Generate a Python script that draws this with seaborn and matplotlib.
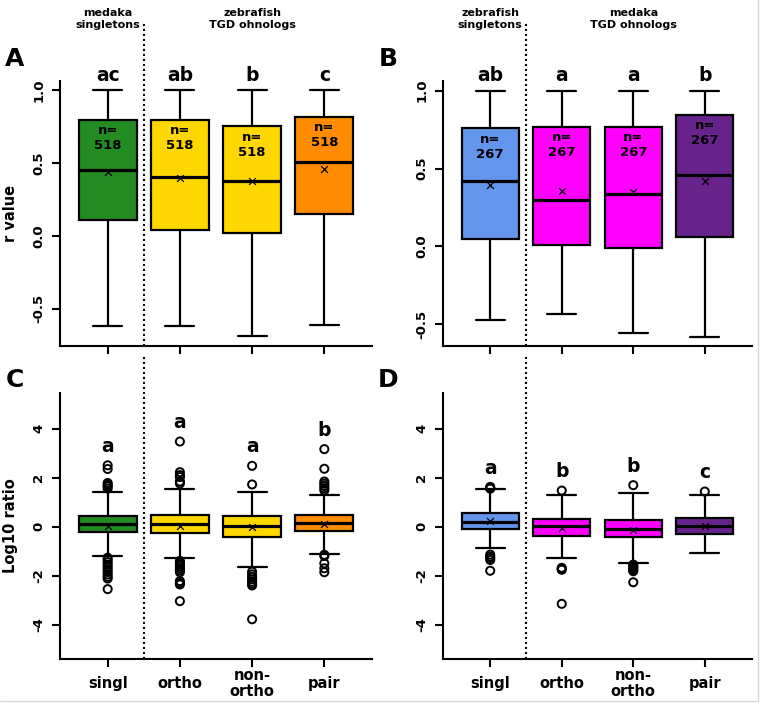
"""Box plots of r values (A, B) and log10 ratios (C, D) for singletons and TGD ohnologs."""

import numpy as np
import pandas as pd
import matplotlib
matplotlib.use("Agg")
import matplotlib.pyplot as plt
import seaborn as sns
from matplotlib.lines import Line2D

# categories
groups = ["singl", "ortho", "non-ortho", "pair"]
tick_labels = ["singl", "ortho", "non-\northo", "pair"]

# panel A: medaka singletons vs zebrafish TGD ohnologs (r value)
a_low = [-0.622, -0.622, -0.691, -0.611]
a_q1 = [0.110, 0.041, 0.018, 0.149]
a_med = [0.453, 0.403, 0.378, 0.506]
a_q3 = [0.796, 0.796, 0.751, 0.815]
a_high = [1.0, 1.0, 1.0, 1.0]
a_mean = [0.437, 0.396, 0.373, 0.458]
a_letters = ["ac", "ab", "b", "c"]
a_n = 518

# panel B: zebrafish singletons vs medaka TGD ohnologs (r value)
b_low = [-0.471, -0.433, -0.555, -0.582]
b_q1 = [0.045, 0.006, -0.009, 0.060]
b_med = [0.418, 0.300, 0.336, 0.456]
b_q3 = [0.760, 0.769, 0.769, 0.846]
b_high = [1.0, 1.0, 1.0, 1.0]
b_mean = [0.396, 0.353, 0.349, 0.420]
b_letters = ["ab", "a", "a", "b"]
b_n = 267

# panel C: log10 ratio
c_low = [-1.21, -1.30, -1.65, -1.11]
c_q1 = [-0.23, -0.26, -0.43, -0.16]
c_med = [0.11, 0.12, 0.01, 0.15]
c_q3 = [0.45, 0.46, 0.42, 0.46]
c_high = [1.41, 1.55, 1.43, 1.27]
c_mean = [0.04, 0.04, -0.03, 0.12]
c_out_singl = [2.50, 2.35, 1.78, 1.70, 1.64, 1.55, -1.27, -1.35, -1.45, -1.55,
               -1.65, -1.75, -1.85, -1.95, -2.05, -2.12, -2.55]
c_out_ortho = [3.47, 2.22, 2.10, 2.02, 1.84, 1.76, -1.40, -1.48, -1.55, -1.62,
               -1.70, -1.78, -1.86, -2.22, -2.30, -2.36, -3.04]
c_out_nonortho = [2.48, 1.72, -1.84, -1.95, -2.05, -2.15, -2.25, -2.33, -2.40, -3.78]
c_out_pair = [3.16, 2.36, 1.84, 1.75, 1.66, 1.57, 1.48, -1.15, -1.20, -1.50, -1.70, -1.86]
c_letters = ["a", "a", "a", "b"]

# panel D: log10 ratio
d_low = [-0.87, -1.27, -1.48, -1.07]
d_q1 = [-0.09, -0.37, -0.42, -0.30]
d_med = [0.20, 0.03, -0.10, 0.02]
d_q3 = [0.55, 0.31, 0.29, 0.34]
d_high = [1.53, 1.27, 1.39, 1.29]
d_mean = [0.22, -0.04, -0.13, 0.03]
d_out_singl = [1.62, 1.58, 1.55, -1.14, -1.22, -1.28, -1.36, -1.80]
d_out_ortho = [1.47, -1.68, -1.72, -1.76, -3.15]
d_out_nonortho = [1.69, -1.55, -1.60, -1.65, -1.70, -1.76, -1.82, -2.27]
d_out_pair = [1.43]
d_letters = ["a", "b", "b", "c"]

colors_left = ["#228B22", "#FFD700", "#FFD700", "#FF8C00"]
colors_right = ["#6495ED", "#FF00FF", "#FF00FF", "#68228B"]

sns.set_theme(style="ticks")
plt.rcParams["font.family"] = ["DejaVu Sans"]
plt.rcParams["font.weight"] = "bold"
for key in ["text.color", "axes.labelcolor", "xtick.color", "ytick.color", "axes.edgecolor"]:
    plt.rcParams[key] = "black"

W, H = 762, 707
fig = plt.figure(figsize=(W / 100, H / 100), dpi=100)


def px_axes(left, top, right, bottom):
    return fig.add_axes([left / W, 1 - bottom / H, (right - left) / W, (bottom - top) / H])


def draw_boxes(ax, low, q1, med, q3, high, means, palette, fliers=None):
    rows = []
    for g, vals in zip(groups, zip(low, q1, med, q3, high)):
        for v in vals:
            rows.append({"group": g, "value": v})
    df = pd.DataFrame(rows)
    sns.boxplot(data=df, x="group", y="value", hue="group", order=groups,
                hue_order=groups, palette=dict(zip(groups, palette)), saturation=1,
                whis=np.inf, showfliers=False, width=0.8, dodge=False,
                linecolor="black", linewidth=1.6,
                medianprops={"linewidth": 2.3}, legend=False, ax=ax)
    pos = np.arange(len(groups))
    if fliers is not None:
        fl = pd.DataFrame([{"pos": i, "value": v}
                           for i, vals in enumerate(fliers) for v in vals])
        sns.scatterplot(data=fl, x="pos", y="value", marker="o", facecolor="none",
                        edgecolor="black", linewidth=1.4, s=34, ax=ax, zorder=4)
    sns.scatterplot(x=pos, y=means, marker="x", color="black", s=24,
                    linewidth=0.9, ax=ax, zorder=5)
    ax.set_xlabel("")
    ax.set_ylabel("")
    ax.set_xlim(-0.66, 3.66)
    ax.set_xticks(pos)
    sns.despine(ax=ax)
    for s in ["left", "bottom"]:
        ax.spines[s].set_linewidth(1.5)
        ax.spines[s].set_color("black")
    ax.tick_params(axis="both", length=5.5, width=1.5, color="black", direction="out")
    ax.tick_params(axis="y", pad=5)


def separator(ax, top):
    ax.plot([0.5, 0.5], [0, top], transform=ax.get_xaxis_transform(),
            ls=(0, (1, 1.4)), lw=1.5, color="black", clip_on=False)


def set_yticks(ax, ticks, labels):
    ax.set_yticks(ticks)
    ax.set_yticklabels(labels, rotation=90, va="center", fontsize=9.5, fontweight="bold")


ax_a = px_axes(60, 81, 372, 346)
ax_b = px_axes(443, 81, 752, 346)
ax_c = px_axes(60, 393, 372, 659)
ax_d = px_axes(443, 393, 752, 659)

# top row: r values
for ax, vals, pal, letters, n, heads in [
    (ax_a, (a_low, a_q1, a_med, a_q3, a_high, a_mean), colors_left, a_letters, a_n,
     ["medaka\nsingletons", "zebrafish\nTGD ohnologs"]),
    (ax_b, (b_low, b_q1, b_med, b_q3, b_high, b_mean), colors_right, b_letters, b_n,
     ["zebrafish\nsingletons", "medaka\nTGD ohnologs"]),
]:
    draw_boxes(ax, *vals, pal)
    ax.set_ylim(-0.757 if ax is ax_a else -0.64, 1.062)
    set_yticks(ax, [-0.5, 0.0, 0.5, 1.0], ["-0.5", "0.0", "0.5", "1.0"])
    ax.set_xticklabels([])
    q3 = vals[3]
    for i, (lt, top) in enumerate(zip(letters, q3)):
        ax.text(i, 1.1, lt, ha="center", va="center", fontsize=13.5, fontweight="bold")
        ax.text(i, top - 0.03, f"n=\n{n}", ha="center", va="top", fontsize=9.5,
                fontweight="bold", linespacing=1.2, multialignment="center")
    tr = ax.get_xaxis_transform()
    ax.text(0, 1.235, heads[0], ha="center", va="center", fontsize=8,
            fontweight="bold", transform=tr, linespacing=1.25)
    ax.text(2, 1.235, heads[1], ha="center", va="center", fontsize=8,
            fontweight="bold", transform=tr, linespacing=1.25)
    separator(ax, 1.22)

ax_a.set_ylabel("r value", fontsize=10.5, fontweight="bold")
ax_a.yaxis.set_label_coords(-0.136, 0.5)

# bottom row: log10 ratios
for ax, vals, pal, fliers, letters in [
    (ax_c, (c_low, c_q1, c_med, c_q3, c_high, c_mean), colors_left,
     [c_out_singl, c_out_ortho, c_out_nonortho, c_out_pair], c_letters),
    (ax_d, (d_low, d_q1, d_med, d_q3, d_high, d_mean), colors_right,
     [d_out_singl, d_out_ortho, d_out_nonortho, d_out_pair], d_letters),
]:
    draw_boxes(ax, *vals, pal, fliers=fliers)
    ax.set_ylim(-5.4, 5.45)
    set_yticks(ax, [-4, -2, 0, 2, 4], ["-4", "-2", "0", "2", "4"])
    ax.set_xticklabels(tick_labels, fontsize=10.5, fontweight="bold", va="center",
                       linespacing=1.05)
    ax.tick_params(axis="x", pad=12)
    for i, (lt, fl) in enumerate(zip(letters, fliers)):
        ax.text(i, max(fl) + 0.77, lt, ha="center", va="center", fontsize=13.5,
                fontweight="bold")
    separator(ax, 1.14)

ax_c.set_ylabel("Log10 ratio", fontsize=10.5, fontweight="bold")
ax_c.yaxis.set_label_coords(-0.136, 0.5)

# panel letters
for lbl, x, y in [("A", 15, 59), ("B", 388, 59), ("C", 15, 380), ("D", 388, 380)]:
    fig.text(x / W, 1 - y / H, lbl, ha="center", va="center", fontsize=18,
             fontweight="bold")

# faint frame lines at the bottom and right edge
fig.add_artist(Line2D([0, 758 / W], [1 - 701 / H, 1 - 701 / H], color="#d8d8d8", lw=1))
fig.add_artist(Line2D([758 / W, 758 / W], [1 - 701 / H, 1], color="#d8d8d8", lw=1))

fig.savefig("out.png", dpi=100)
